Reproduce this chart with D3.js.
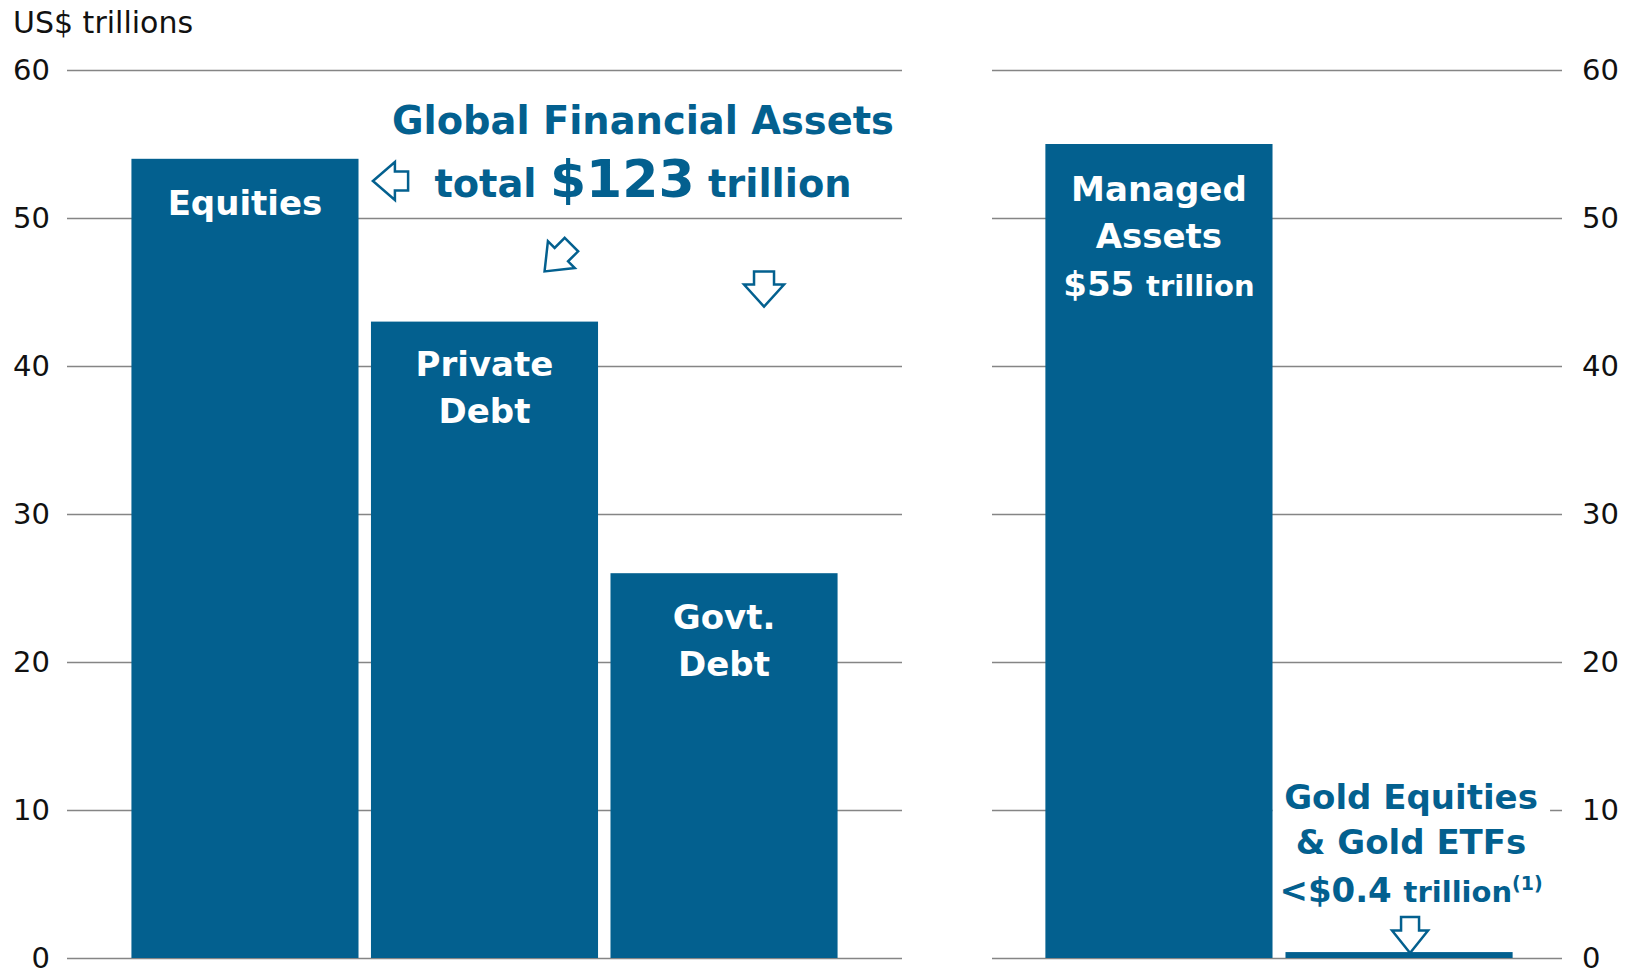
<!DOCTYPE html>
<html>
<head>
<meta charset="utf-8">
<script src="https://cdn.jsdelivr.net/npm/d3@7"></script>
<style>
body { margin: 0; background: #fff; }
text { font-family: "DejaVu Sans", Verdana, sans-serif; }
</style>
</head>
<body>
<div id="viz"></div>
<script>
const W = 1632, H = 973;
const blue = "#03608f";

// data
const globalCats = ["Equities", "Private Debt", "Govt. Debt"];
const globalVals = [54, 43, 26];
const globalLabels = [["Equities"], ["Private", "Debt"], ["Govt.", "Debt"]];
const managedCats = ["Managed Assets", "Gold Equities & Gold ETFs"];
const managedVals = [55, 0.4];
const yTicks = [0, 10, 20, 30, 40, 50, 60];

const y = d3.scaleLinear().domain([0, 60]).range([958, 70]);
const xL = d3.scaleBand().domain(globalCats).range([67, 902])
    .paddingInner(0.052).paddingOuter(0.269);
const xR = d3.scaleBand().domain(managedCats).range([994, 1564])
    .paddingInner(0.054).paddingOuter(0.214);

const svg = d3.select('#viz').append('svg')
    .attr('width', W)
    .attr('height', H);

// y-axis text label
svg.append('text')
    .attr('x', 13).attr('y', 33)
    .attr('font-size', 30).attr('fill', '#111')
    .text('US$ trillions');

// grids + tick labels
function styleAxis(g) {
    g.select('.domain').remove();
    g.selectAll('.tick line').attr('stroke', '#858585').attr('stroke-width', 1.5);
    g.selectAll('.tick text')
        .attr('font-size', 29).attr('fill', '#111')
        .attr('font-family', '"DejaVu Sans", Verdana, sans-serif')
        .attr('dy', '0.32em');
}

svg.append('g')
    .attr('transform', 'translate(67,0)')
    .call(d3.axisLeft(y).tickValues(yTicks).tickSize(-(902 - 67)).tickPadding(17))
    .call(styleAxis);

svg.append('g')
    .attr('transform', 'translate(1562,0)')
    .call(d3.axisRight(y).tickValues(yTicks).tickSize(-(1562 - 992)).tickPadding(20))
    .call(styleAxis);

// bars
svg.selectAll('rect.global')
    .data(globalCats)
    .enter()
    .append('rect')
    .attr('class', 'global')
    .attr('x', d => xL(d))
    .attr('y', (d, i) => y(globalVals[i]))
    .attr('width', xL.bandwidth())
    .attr('height', (d, i) => y(0) - y(globalVals[i]))
    .attr('fill', blue);

// white box behind gold label (hides gridline)
const goldCx = xR(managedCats[1]) + xR.bandwidth() / 2 + 12;
svg.append('rect')
    .attr('x', xR(managedCats[0]) + xR.bandwidth())
    .attr('y', y(0) - 185)
    .attr('width', goldCx + 139 - (xR(managedCats[0]) + xR.bandwidth()))
    .attr('height', 137)
    .attr('fill', '#fff');

svg.selectAll('rect.managed')
    .data(managedCats)
    .enter()
    .append('rect')
    .attr('class', 'managed')
    .attr('x', d => xR(d))
    .attr('y', (d, i) => y(managedVals[i]))
    .attr('width', xR.bandwidth())
    .attr('height', (d, i) => y(0) - y(managedVals[i]))
    .attr('fill', blue);

// labels inside the global bars
globalCats.forEach((c, i) => {
    const t = svg.append('text')
        .attr('text-anchor', 'middle')
        .attr('font-size', 34).attr('font-weight', 'bold')
        .attr('fill', '#fff');
    globalLabels[i].forEach((line, j) => {
        t.append('tspan')
            .attr('x', xL(c) + xL.bandwidth() / 2)
            .attr('y', y(globalVals[i]) + (i == 1 ? 54 : 56) + j * 47)
            .text(line);
    });
});

// managed assets label
{
    const cx = xR(managedCats[0]) + xR.bandwidth() / 2;
    const top = y(managedVals[0]) + 57;
    const t = svg.append('text')
        .attr('text-anchor', 'middle')
        .attr('font-weight', 'bold').attr('fill', '#fff');
    t.append('tspan').attr('x', cx).attr('y', top).attr('font-size', 34).text('Managed');
    t.append('tspan').attr('x', cx).attr('y', top + 47).attr('font-size', 34).text('Assets');
    const t3 = svg.append('text')
        .attr('text-anchor', 'middle').attr('x', cx).attr('y', top + 95)
        .attr('font-weight', 'bold').attr('fill', '#fff');
    t3.append('tspan').attr('font-size', 34).text('$55 ');
    t3.append('tspan').attr('font-size', 29).text('trillion');
}

// gold label
{
    const base = y(0);
    const g = svg.append('g').attr('fill', blue).attr('font-weight', 'bold')
        .attr('text-anchor', 'middle');
    g.append('text').attr('x', goldCx).attr('y', base - 149).attr('font-size', 34).text('Gold Equities');
    g.append('text').attr('x', goldCx).attr('y', base - 104).attr('font-size', 34).text('& Gold ETFs');
    const t = g.append('text').attr('x', goldCx).attr('y', base - 56);
    t.append('tspan').attr('font-size', 34).text('<$0.4 ');
    t.append('tspan').attr('font-size', 29).text('trillion');
    t.append('tspan').attr('font-size', 19).attr('dy', -12).text('(1)');
}

// global financial assets title
{
    const cx = 643;
    const g = svg.append('g').attr('fill', blue).attr('font-weight', 'bold')
        .attr('text-anchor', 'middle');
    g.append('text').attr('x', cx).attr('y', 134).attr('font-size', 38.4).text('Global Financial Assets');
    const t = g.append('text').attr('x', cx).attr('y', 197);
    t.append('tspan').attr('font-size', 38.4).text('total ');
    t.append('tspan').attr('font-size', 52).text('$123');
    t.append('tspan').attr('font-size', 38.4).text(' trillion');
}

// hollow arrows
function arrow(cx, cy, angle, sx, sy) {
    svg.append('path')
        .attr('d', 'M-10,-20 L10,-20 L10,-5 L20,-5 L0,20 L-20,-5 L-10,-5 Z')
        .attr('transform', `translate(${cx},${cy}) rotate(${angle}) scale(${sx},${sy})`)
        .attr('fill', '#fff')
        .attr('stroke', blue)
        .attr('stroke-width', 2.5)
        .attr('vector-effect', 'non-scaling-stroke')
        .attr('stroke-linejoin', 'miter');
}

arrow(xL(globalCats[0]) + xL.bandwidth() + 32, y(52.5), 90, 0.95, 0.88);
arrow(558, 258, 45, 0.95, 0.95);
arrow(xL(globalCats[2]) + xL.bandwidth() / 2 + 40, 289, 0, 1, 0.88);
arrow(goldCx - 1, y(0) - 23, 0, 0.9, 0.9);
</script>
</body>
</html>
